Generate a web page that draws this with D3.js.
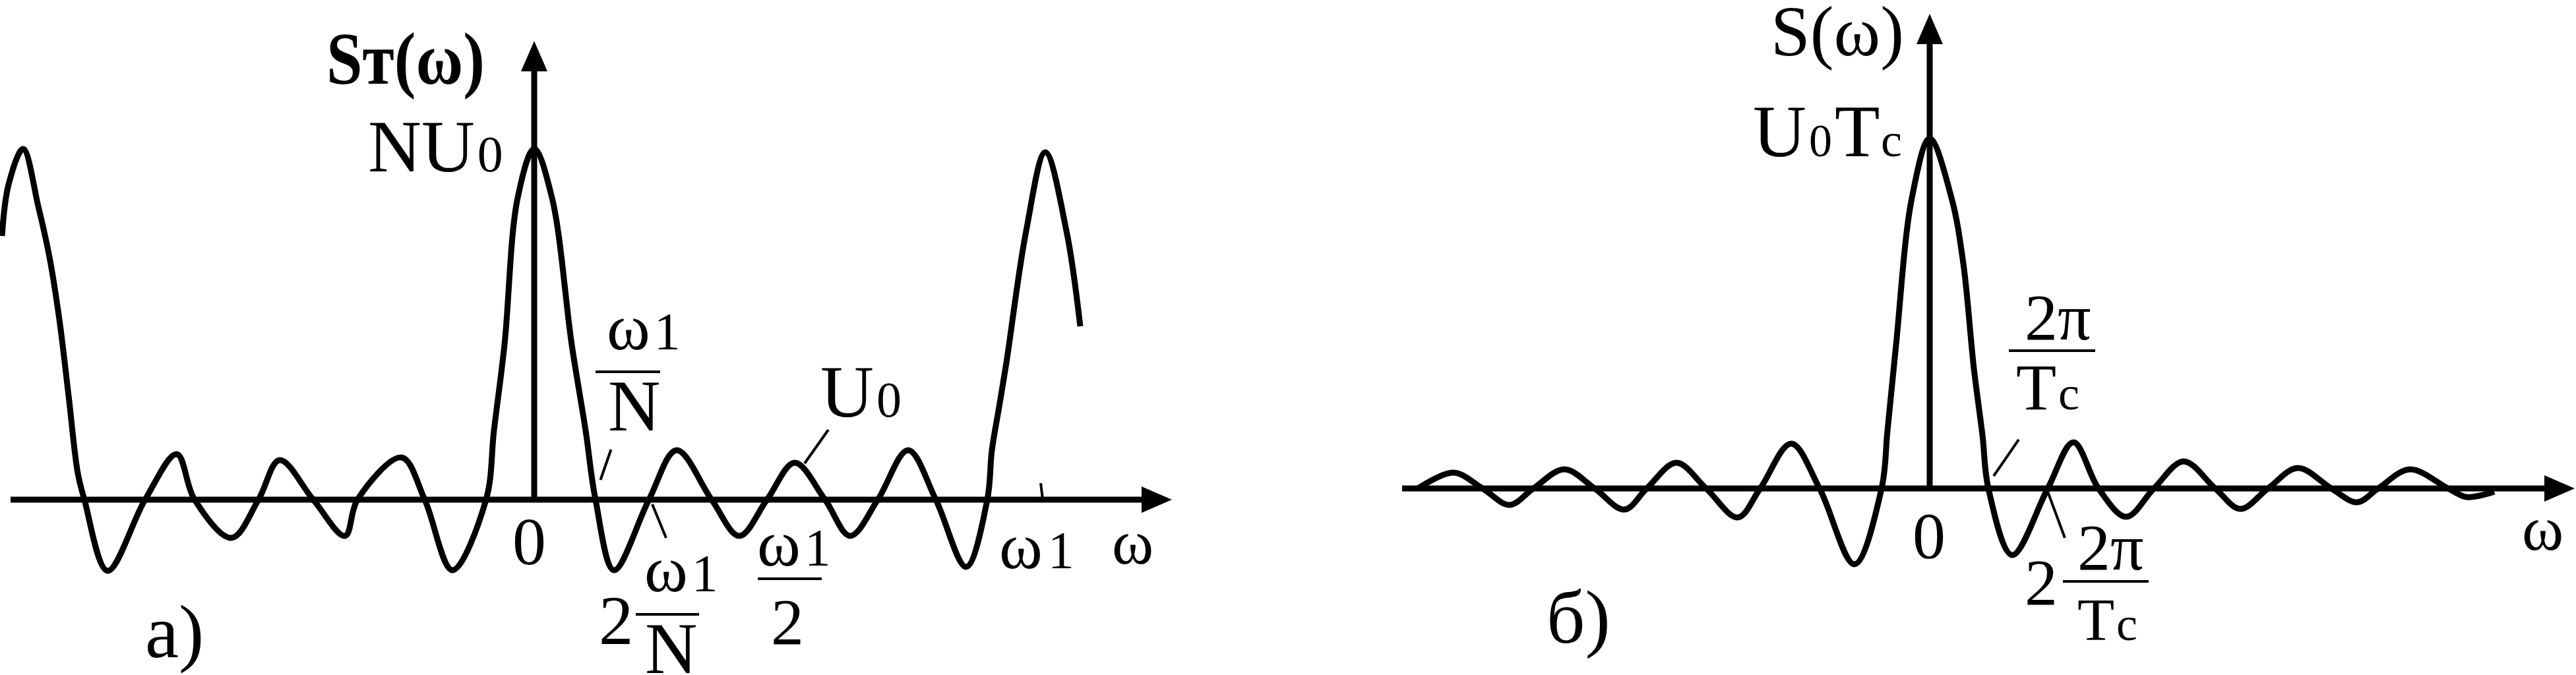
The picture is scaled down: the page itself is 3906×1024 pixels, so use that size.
<!DOCTYPE html>
<html>
<head>
<meta charset="utf-8">
<script src="https://cdn.jsdelivr.net/npm/d3@7"></script>
<style>
  html, body { margin: 0; padding: 0; background: #fff; }
  svg { display: block; }
  text { font-family: "Liberation Serif", "Times New Roman", serif; fill: #000; }
</style>
</head>
<body>
<svg id="chart" width="3906" height="1024"></svg>
<script>
// ---------- DATA ----------
// Panel a): periodic spectrum S_T(ω); ω in units of ω1, amplitude in units of N·U0
const leftOmega = [-1.0413,-1.0284,-1.0,-0.9703,-0.9484,-0.929,-0.911,-0.8929,-0.88,-0.8348,
  -0.7613,-0.6994,-0.6645,-0.5923,-0.5394,-0.4981,-0.4323,-0.3703,-0.3458,-0.2594,
  -0.2142,-0.16,-0.0942,-0.0787,-0.0581,-0.0323,0,0.0348,0.0735,0.1006,
  0.12,0.1561,0.2245,0.2787,0.3471,0.4013,0.4555,0.5097,0.569,0.6181,
  0.6723,0.7316,0.7858,0.8452,0.8865,0.8955,0.9097,0.9239,0.9626,1.0,
  1.0413,1.0684];
const leftAmp = [0.7519,0.8985,1.0,0.8365,0.6917,0.5132,0.297,0.0752,0,-0.203,
  0,0.1297,0,-0.109,0,0.1128,0,-0.1034,0,0.1203,
  0,-0.2011,0,0.1974,0.4417,0.8609,1,0.8609,0.4417,0.1974,
  0,-0.2011,0,0.141,0,-0.1034,0,0.1053,0,-0.1034,
  0,0.141,0,-0.1917,0,0.141,0.265,0.391,0.7669,0.9906,
  0.7669,0.4944];

// Panel б): single pulse spectrum S(ω); ω in units of 2π/Tc, amplitude in units of U0·Tc
const rightOmega = [-8.719,-8.112,-7.618,-7.157,-6.753,-6.225,-5.708,-5.202,-4.82,-4.315,
  -3.809,-3.27,-2.888,-2.36,-1.876,-1.281,-0.82,-0.719,-0.573,-0.303,
  0,0.371,0.573,0.753,0.899,1,1.404,2.011,2.449,2.876,
  3.348,3.82,4.326,4.865,5.292,5.764,6.27,6.843,7.281,7.64,
  8.18,8.831,9.146,9.618];
const rightAmp = [0,0.0452,0,-0.0471,0,0.0546,0,-0.0603,0,0.0734,
  0,-0.0829,0,0.1281,0,-0.2166,0,0.1657,0.4105,0.8305,
  1,0.8305,0.6422,0.3427,0.1525,0,-0.1902,0,0.1318,0,
  -0.081,0,0.0772,0,-0.0584,0,0.0584,0,-0.0395,0,
  0.0546,0,-0.0245,-0.0094];

// Axis extents (data units)
const leftXExtent = [-1.0245, 1.2477];
const leftYTop = 1.308;
const rightXExtent = [-8.989, 10.989];
const rightYTop = 1.356;

// Texts
const leftTitle = "Sт(ω)";
const rightTitle = "S(ω)";
const panelLabels = ["а)", "б)"];

// ---------- DRAWING ----------
const svg = d3.select("#chart");
svg.append("rect").attr("width", 3906).attr("height", 1024).attr("fill", "#fff");

const xL = d3.scaleLinear().domain([-1, 1]).range([35, 1585]);
const yL = d3.scaleLinear().domain([0, 1]).range([758, 226]);
const xR = d3.scaleLinear().domain([0, 1]).range([2926, 3015]);
const yR = d3.scaleLinear().domain([0, 1]).range([741, 210]);

const STROKE = 9;

function drawAxes(x, y, xExt, yTop) {
  const g = svg.append("g");
  const y0 = y(0), x0 = x(0);
  const xEnd = x(xExt[1]);
  const arrowLen = 46, half = 20;
  g.append("line").attr("x1", x(xExt[0])).attr("x2", xEnd - arrowLen + 2)
    .attr("y1", y0).attr("y2", y0).attr("stroke", "#000").attr("stroke-width", STROKE);
  g.append("path").attr("d", `M${xEnd},${y0} L${xEnd - arrowLen},${y0 - half} L${xEnd - arrowLen},${y0 + half} Z`)
    .attr("fill", "#000");
  const yEnd = y(yTop);
  g.append("line").attr("x1", x0).attr("x2", x0)
    .attr("y1", y0).attr("y2", yEnd + arrowLen - 2).attr("stroke", "#000").attr("stroke-width", STROKE);
  g.append("path").attr("d", `M${x0},${yEnd} L${x0 - half},${yEnd + arrowLen} L${x0 + half},${yEnd + arrowLen} Z`)
    .attr("fill", "#000");
}

function drawCurve(x, y, xs, ys) {
  const line = d3.line().x(d => x(d[0])).y(d => y(d[1])).curve(d3.curveCatmullRom.alpha(0.5));
  svg.append("path").datum(d3.zip(xs, ys)).attr("d", line)
    .attr("fill", "none").attr("stroke", "#000").attr("stroke-width", STROKE)
    .attr("stroke-linejoin", "round");
}

drawAxes(xL, yL, leftXExtent, leftYTop);
drawAxes(xR, yR, rightXExtent, rightYTop);
drawCurve(xL, yL, leftOmega, leftAmp);
drawCurve(xR, yR, rightOmega, rightAmp);

// text helper: parts = [[string, size, dx], ...]
function label(x, y, parts, opts = {}) {
  const t = svg.append("text").attr("x", x).attr("y", y);
  if (opts.weight) t.attr("font-weight", opts.weight);
  if (opts.len) t.attr("textLength", opts.len).attr("lengthAdjust", "spacingAndGlyphs");
  parts.forEach(p => {
    const s = t.append("tspan").text(p[0]).attr("font-size", p[1]);
    if (p[2]) s.attr("dx", p[2]);
  });
  return t;
}
function bar(x1, x2, y) {
  svg.append("line").attr("x1", x1).attr("x2", x2).attr("y1", y).attr("y2", y)
    .attr("stroke", "#000").attr("stroke-width", 4);
}
function leader(x1, y1, x2, y2) {
  svg.append("line").attr("x1", x1).attr("y1", y1).attr("x2", x2).attr("y2", y2)
    .attr("stroke", "#000").attr("stroke-width", 4);
}

// ----- panel a) labels -----
label(495, 127, [[leftTitle, 112]], { weight: "bold", len: 240 });
label(558, 260, [["NU", 112], ["0", 78, 4]]);
// ω1/N
label(920, 530, [["ω", 100], ["1", 80, 6]]);
bar(903, 1001, 564);
label(922, 653, [["N", 110]]);
leader(xL(0.1503), yL(0.1429), xL(0.1297), yL(0.0564));
// 2ω1/N
label(908, 977, [["2", 105]]);
label(977, 897, [["ω", 100], ["1", 80, 6]]);
bar(964, 1060, 932);
label(978, 1021, [["N", 110]]);
leader(xL(0.2310), yL(-0.0132), xL(0.2581), yL(-0.1090));
// ω1/2
label(1148, 858, [["ω", 100], ["1", 80, 6]]);
bar(1149, 1246, 878);
label(1169, 977, [["2", 100]]);
// U0
label(1244, 632, [["U", 112], ["0", 76, 4]]);
leader(xL(0.5755), yL(0.1992), xL(0.5290), yL(0.1034));
// origin, ω1, ω
label(777, 856, [["0", 102]]);
label(1515, 862, [["ω", 100], ["1", 80, 8]]);
leader(xL(0.9910), yL(0.0470), xL(0.9950), yL(0.0));
label(1686, 855, [["ω", 96]]);
label(220, 997, [[panelLabels[0], 115]]);

// ----- panel б) labels -----
label(2685, 84, [[rightTitle, 108]], { len: 202 });
label(2658, 237, [["U", 112]]);
label(2743, 237, [["0", 70]]);
label(2782, 237, [["T", 112]]);
label(2852, 237, [["c", 72]]);
// 2π/Tc
label(3070, 515, [["2π", 100]]);
bar(3046, 3177, 532);
label(3057, 621, [["T", 100]]);
label(3121, 621, [["c", 72]]);
leader(xR(1.517), yR(0.1394), xR(1.090), yR(0.0358));
// 2·2π/Tc
label(3070, 917, [["2", 100]]);
label(3150, 864, [["2π", 100]]);
bar(3128, 3258, 882);
label(3150, 971, [["T", 92]]);
label(3209, 971, [["c", 72]]);
leader(xR(2.011), yR(-0.0094), xR(2.303), yR(-0.1412));
label(2900, 846, [["0", 100]]);
label(3824, 834, [["ω", 96]]);
label(2345, 975, [[panelLabels[1], 115]]);
</script>
</body>
</html>
